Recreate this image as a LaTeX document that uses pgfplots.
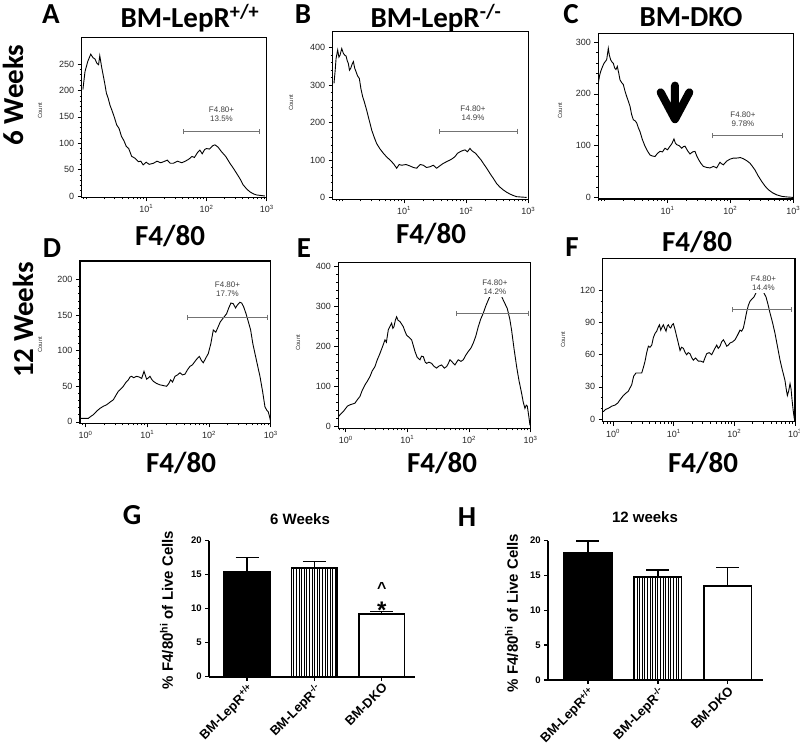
\documentclass[border=0pt]{standalone}
\usepackage{fontspec}
\setmainfont{Liberation Sans}
\newfontfamily\calib{Carlito}
\usepackage{pgfplots}
\pgfplotsset{compat=1.18}
\usetikzlibrary{patterns.meta,arrows.meta}

\tikzset{
 curve/.style={black, line width=0.9pt},
 gate/.style={draw=black!55, line width=0.8pt, {Bar[width=5pt]}-{Bar[width=5pt]}},
 gatelabel/.style={font=\fontsize{8}{9}\selectfont, text=black!75, align=center, fill=white, inner sep=1.2pt},
}
\pgfplotsset{
 hist/.style={
   scale only axis, anchor=south west,
   axis line style={line width=1.2pt},
   every tick/.style={black, line width=0.6pt},
   tick align=outside, xtick pos=bottom, ytick pos=left,
   major tick length=4pt, minor tick length=2pt,
   ticklabel style={font=\fontsize{9}{10}\selectfont, text=black!85},
   /pgf/number format/assume math mode=true,
   xtick={1,2,3}, xticklabels={10\textsuperscript{1},10\textsuperscript{2},10\textsuperscript{3}},
   minor xtick={-0.155,-0.097,-0.046,0,0.301,0.477,0.602,0.699,0.778,0.845,0.903,0.954,1.301,1.477,1.602,1.699,1.778,1.845,1.903,1.954,2.301,2.477,2.602,2.699,2.778,2.845,2.903,2.954},
   xmax=3,
   minor y tick num=4,
 },
 histB/.style={hist, xtick={0,1,2,3}, xticklabels={10\textsuperscript{0},10\textsuperscript{1},10\textsuperscript{2},10\textsuperscript{3}}},
 barax/.style={
   scale only axis, anchor=south west,
   axis x line=bottom, axis y line=left,
   axis line style={line width=1.8pt, -},
   ymin=0, ymax=20, ytick={0,5,10,15,20},
   xtick={0,1,2},
   xticklabels={BM-LepR\textsuperscript{+/+},BM-LepR\textsuperscript{-/-},BM-DKO},
   tick align=outside, major tick length=4pt,
   every tick/.style={black, line width=1.5pt},
   yticklabel style={font=\bfseries\fontsize{9.5}{10}\selectfont},
   xticklabel style={font=\bfseries\fontsize{13}{14}\selectfont, rotate=45, anchor=north east, inner sep=1pt},
   /pgf/number format/assume math mode=true,
   ybar, bar shift=0pt, bar width=0.68,
   clip=false,
 },
 errb/.style={error bars/.cd, y dir=plus, y explicit,
   error bar style={line width=1.6pt, black},
   error mark options={rotate=90, line width=1.6pt, mark size=11.5pt, black}},
}

\begin{document}
\begin{tikzpicture}[x=1pt,y=1pt]
\useasboundingbox (0,0) rectangle (800,749);

% ---------------- Panel A ----------------
\begin{axis}[hist, at={(81.7pt,551.7pt)}, width=185pt, height=160pt,
  xmin=-0.07, ymin=-2.5, ymax=301, ytick={0,50,100,150,200,250}]
\addplot[curve] coordinates {(-0.05,202)(-0.015,236)(0.03,255)(0.08,269)(0.12,262)(0.15,260)(0.18,252)(0.21,249)(0.23,266)(0.26,245)(0.29,227)(0.31,215)(0.34,195)(0.37,185)(0.40,172)(0.43,163)(0.47,150)(0.51,135)(0.55,128)(0.59,113)(0.63,105)(0.67,94)(0.71,90)(0.76,75)(0.81,72)(0.87,65)(0.91,66)(0.95,59)(1.0,64)(1.05,60)(1.12,62)(1.18,66)(1.24,63)(1.29,65)(1.35,68)(1.40,62)(1.45,62)(1.52,66)(1.59,63)(1.65,66)(1.71,70)(1.76,75)(1.80,73)(1.85,82)(1.89,87)(1.93,80)(1.97,88)(2.0,90)(2.05,89)(2.10,95)(2.14,97)(2.19,93)(2.25,84)(2.32,75)(2.39,62)(2.45,52)(2.50,43)(2.56,32)(2.61,21)(2.67,13)(2.72,8)(2.78,4)(2.83,2)(2.90,1)(2.97,0)};
\draw[gate] (axis cs:1.61,122) -- (axis cs:2.88,122);
\node[gatelabel] at (axis cs:2.25,155) {F4.80+\\13.5\%};
\end{axis}

% ---------------- Panel B ----------------
\begin{axis}[hist, at={(332.7pt,549.7pt)}, width=195.6pt, height=167.6pt,
  xmin=-0.15, ymin=-5, ymax=443, ytick={0,100,200,300,400}]
\addplot[curve] coordinates {(-0.129,305)(-0.11,340)(-0.096,371)(-0.07,394)(-0.05,375)(-0.032,380)(-0.005,398)(0.022,385)(0.045,380)(0.065,378)(0.085,365)(0.102,358)(0.12,340)(0.14,345)(0.16,355)(0.183,363)(0.205,345)(0.226,336)(0.25,325)(0.279,318)(0.305,290)(0.333,269)(0.36,255)(0.397,233)(0.44,205)(0.478,180)(0.52,160)(0.558,144)(0.61,130)(0.666,118)(0.72,108)(0.773,100)(0.83,90)(0.88,78)(0.92,88)(0.961,86)(1.03,88)(1.095,84)(1.15,80)(1.202,78)(1.26,88)(1.31,86)(1.36,80)(1.417,82)(1.47,86)(1.524,78)(1.58,85)(1.631,91)(1.69,96)(1.739,100)(1.78,104)(1.819,109)(1.86,118)(1.9,122)(1.94,125)(1.98,127)(2.02,122)(2.061,131)(2.09,125)(2.114,122)(2.15,118)(2.195,109)(2.24,100)(2.275,91)(2.33,78)(2.383,64)(2.44,50)(2.49,37)(2.54,28)(2.597,20)(2.65,14)(2.705,9)(2.76,5)(2.812,2)(2.89,1)(2.973,0)};
\draw[gate] (axis cs:1.567,177) -- (axis cs:2.823,177);
\node[gatelabel] at (axis cs:2.11,226) {F4.80+\\14.9\%};
\end{axis}

% ---------------- Panel C ----------------
\begin{axis}[hist, at={(598.3pt,550pt)}, width=195pt, height=165.7pt,
  xmin=-0.1, ymin=-3, ymax=317, ytick={0,100,200,300}]
\addplot[curve] coordinates {(-0.1,221)(-0.08,235)(-0.063,243)(-0.035,252)(-0.01,259)(0.033,266)(0.059,288)(0.075,275)(0.096,266)(0.115,262)(0.139,259)(0.16,250)(0.181,247)(0.202,253)(0.225,240)(0.245,227)(0.27,222)(0.298,218)(0.325,205)(0.351,195)(0.38,185)(0.404,176)(0.43,160)(0.457,150)(0.485,148)(0.51,144)(0.535,135)(0.563,127)(0.6,112)(0.642,99)(0.68,90)(0.722,82)(0.76,80)(0.801,79)(0.84,85)(0.881,89)(0.92,88)(0.96,95)(1.0,92)(1.04,99)(1.07,104)(1.103,113)(1.125,105)(1.146,102)(1.185,100)(1.225,95)(1.25,98)(1.278,99)(1.32,90)(1.358,84)(1.4,88)(1.437,89)(1.465,80)(1.49,74)(1.53,66)(1.57,60)(1.62,58)(1.676,57)(1.73,60)(1.782,57)(1.81,63)(1.835,68)(1.86,65)(1.888,63)(1.94,70)(1.994,74)(2.05,76)(2.1,76)(2.16,77)(2.2,75)(2.232,73)(2.27,70)(2.312,66)(2.35,60)(2.391,53)(2.44,42)(2.497,31)(2.55,22)(2.603,15)(2.67,9)(2.736,5)(2.82,2)(2.895,1)(3.0,0)};
\draw[gate] (axis cs:1.702,119) -- (axis cs:2.826,119);
\node[gatelabel] at (axis cs:2.2,151) {F4.80+\\9.78\%};
\draw[black, line width=8pt, line cap=round, line join=round]
  (axis cs:0.891,203) -- (axis cs:1.119,151) -- (axis cs:1.347,203)
  (axis cs:1.119,216) -- (axis cs:1.119,158);
\end{axis}

% ---------------- Panel D ----------------
\begin{axis}[histB, at={(80pt,325.7pt)}, width=190.7pt, height=162.3pt,
  xmin=-0.09, ymin=-2, ymax=226, ytick={0,50,100,150,200}]
\addplot[curve] coordinates {(-0.09,5)(0.0,5)(0.045,5)(0.09,8)(0.126,10)(0.18,15)(0.234,19)(0.29,22)(0.342,24)(0.4,28)(0.45,31)(0.49,37)(0.531,43)(0.57,46)(0.612,50)(0.65,55)(0.693,59)(0.72,63)(0.747,64)(0.78,62)(0.828,64)(0.87,63)(0.909,61)(0.947,71)(0.99,60)(1.02,62)(1.044,64)(1.07,60)(1.098,57)(1.15,54)(1.206,52)(1.26,51)(1.314,50)(1.35,54)(1.379,59)(1.41,56)(1.449,64)(1.49,66)(1.53,69)(1.57,66)(1.611,67)(1.65,73)(1.692,78)(1.73,80)(1.773,85)(1.81,89)(1.843,92)(1.88,86)(1.908,83)(1.95,90)(1.989,96)(2.03,110)(2.07,129)(2.11,126)(2.151,134)(2.18,140)(2.205,143)(2.25,148)(2.286,152)(2.32,160)(2.356,167)(2.394,166)(2.43,160)(2.459,164)(2.5,168)(2.529,167)(2.56,162)(2.6,152)(2.64,140)(2.675,129)(2.71,110)(2.745,96)(2.79,78)(2.826,64)(2.87,42)(2.907,21)(2.94,16)(2.961,14)(2.985,6)(3.0,0)};
\draw[gate] (axis cs:1.649,147) -- (axis cs:2.961,147);
\node[gatelabel] at (axis cs:2.3,187) {F4.80+\\17.7\%};
\end{axis}

% ---------------- Panel E ----------------
\begin{axis}[histB, at={(338.3pt,320.7pt)}, width=192.3pt, height=165.7pt,
  xmin=-0.12, ymin=-6, ymax=410, ytick={0,100,200,300,400}]
\addplot[curve] coordinates {(-0.12,23)(-0.08,30)(-0.039,36)(0.0,44)(0.03,50)(0.069,53)(0.11,55)(0.15,57)(0.19,66)(0.231,74)(0.27,90)(0.313,103)(0.35,112)(0.394,124)(0.43,138)(0.475,149)(0.51,165)(0.556,182)(0.6,200)(0.637,216)(0.66,210)(0.691,241)(0.72,250)(0.745,258)(0.765,245)(0.783,249)(0.805,265)(0.826,274)(0.85,265)(0.88,262)(0.91,255)(0.934,249)(0.96,238)(0.988,228)(1.03,222)(1.07,216)(1.1,200)(1.124,187)(1.16,172)(1.205,166)(1.23,175)(1.259,174)(1.29,160)(1.313,157)(1.35,160)(1.394,157)(1.43,150)(1.475,145)(1.51,150)(1.556,153)(1.6,145)(1.637,149)(1.66,155)(1.691,166)(1.73,160)(1.772,153)(1.8,160)(1.826,166)(1.87,162)(1.908,166)(1.95,178)(1.989,187)(2.03,195)(2.07,208)(2.11,225)(2.151,249)(2.19,268)(2.232,283)(2.27,300)(2.313,316)(2.34,325)(2.45,335)(2.53,325)(2.556,316)(2.59,305)(2.621,295)(2.66,270)(2.691,241)(2.73,195)(2.773,149)(2.81,115)(2.854,82)(2.88,60)(2.908,44)(2.93,52)(2.946,50)(2.97,25)(2.989,3)(3.0,0)};
\draw[gate] (axis cs:1.783,283) -- (axis cs:2.978,283);
\node[gatelabel, inner sep=2.5pt] at (axis cs:2.42,348) {F4.80+\\14.2\%};
\end{axis}

% ---------------- Panel F ----------------
\begin{axis}[histB, at={(602.7pt,327.3pt)}, width=192.3pt, height=163.3pt,
  xmin=-0.17, ymin=-2.5, ymax=150, ytick={0,30,60,90,120}, minor y tick num=2]
\addplot[curve] coordinates {(-0.17,7)(-0.159,7)(-0.12,9)(-0.077,10)(-0.02,12)(0.033,13)(0.08,15)(0.116,18)(0.171,22)(0.21,24)(0.253,26)(0.28,29)(0.308,32)(0.34,40)(0.379,43)(0.43,43)(0.473,43)(0.5,48)(0.528,54)(0.555,62)(0.583,68)(0.61,67)(0.638,69)(0.665,76)(0.693,80)(0.72,82)(0.747,86)(0.766,88)(0.786,83)(0.81,86)(0.83,88)(0.85,85)(0.874,82)(0.895,87)(0.912,88)(0.93,86)(0.951,85)(0.975,88)(0.995,89)(1.02,84)(1.05,77)(1.08,70)(1.105,64)(1.13,67)(1.16,66)(1.19,62)(1.214,60)(1.24,62)(1.269,61)(1.3,57)(1.324,55)(1.36,57)(1.407,54)(1.45,54)(1.489,53)(1.515,57)(1.544,61)(1.585,62)(1.627,60)(1.67,65)(1.709,69)(1.735,66)(1.764,68)(1.79,72)(1.819,74)(1.85,71)(1.874,68)(1.9,69)(1.929,71)(1.97,72)(2.011,74)(2.05,78)(2.094,83)(2.12,82)(2.149,85)(2.175,92)(2.203,100)(2.23,106)(2.258,110)(2.29,112)(2.324,114)(2.42,125)(2.522,114)(2.555,107)(2.588,99)(2.63,90)(2.67,80)(2.71,68)(2.753,55)(2.79,46)(2.835,36)(2.855,28)(2.874,22)(2.895,26)(2.918,33)(2.935,28)(2.951,18)(2.97,8)(2.989,0)};
\draw[gate] (axis cs:1.956,102) -- (axis cs:2.945,102);
\node[gatelabel, inner sep=2.5pt] at (axis cs:2.48,127) {F4.80+\\14.4\%};
\end{axis}

% ---------------- Panel G ----------------
\begin{axis}[barax, at={(209.3pt,72.3pt)}, width=205.7pt, height=136pt,
  xmin=-0.56, xmax=2.495]
\addplot[fill=black, draw=black, line width=1.8pt, errb] coordinates {(0,15.44) +- (0,2.06)};
\addplot[pattern={Lines[angle=90,distance=2.6pt,line width=0.7pt]}, draw=black, line width=1.8pt, errb] coordinates {(1,15.93) +- (0,1.03)};
\addplot[fill=white, draw=black, line width=1.8pt, errb] coordinates {(2,9.22) +- (0,0.34)};
\node[anchor=base, font=\bfseries\fontsize{16}{16}\selectfont] at (axis cs:2,12.2) {\textasciicircum};
\node[anchor=base, font=\bfseries\fontsize{24}{24}\selectfont] at (axis cs:2,8.6) {*};
\end{axis}

% ---------------- Panel H ----------------
\begin{axis}[barax, at={(548.3pt,69pt)}, width=215pt, height=139.3pt,
  xmin=-0.566, xmax=2.51]
\addplot[fill=black, draw=black, line width=1.8pt, errb] coordinates {(0,18.18) +- (0,1.77)};
\addplot[pattern={Lines[angle=90,distance=2.6pt,line width=0.7pt]}, draw=black, line width=1.8pt, errb] coordinates {(1,14.74) +- (0,1.05)};
\addplot[fill=white, draw=black, line width=1.8pt, errb] coordinates {(2,13.54) +- (0,2.63)};
\end{axis}

% ---------------- texts ----------------
\begin{scope}[every node/.style={font=\calib\bfseries\fontsize{29}{30}\selectfont, inner sep=0pt}]
\node at (51,735) {A};
\node at (190,731) {BM-LepR\textsuperscript{+/+}};
\node at (303,735) {B};
\node at (436,731) {BM-LepR\textsuperscript{-/-}};
\node at (571,735) {C};
\node at (691,732) {BM-DKO};
\node[rotate=90] at (13,654) {6 Weeks};
\node at (170,513) {F4/80};
\node at (431,515) {F4/80};
\node at (697,507) {F4/80};
\node at (52,501) {D};
\node at (304,501) {E};
\node at (572,502) {F};
\node[rotate=90] at (23,429) {12 Weeks};
\node at (181,286) {F4/80};
\node at (442,286) {F4/80};
\node at (703,286) {F4/80};
\node at (132,234) {G};
\node at (467,232) {H};
\end{scope}
\begin{scope}[every node/.style={font=\fontsize{6}{6}\selectfont, rotate=90, text=black!80}]
\node at (40,638) {Count};
\node at (291,646) {Count};
\node at (560,638) {Count};
\node at (40,404) {Count};
\node at (298,406) {Count};
\node at (563,409) {Count};
\end{scope}
\node[font=\bfseries\fontsize{15}{16}\selectfont] at (300,229.7) {6 Weeks};
\node[font=\bfseries\fontsize{15}{16}\selectfont] at (645,232) {12 weeks};
\node[rotate=90, font=\bfseries\fontsize{15}{16}\selectfont] at (166.7,139) {\% F4/80\textsuperscript{hi} of Live Cells};
\node[rotate=90, font=\bfseries\fontsize{15}{16}\selectfont] at (511.7,136) {\% F4/80\textsuperscript{hi} of Live Cells};
\end{tikzpicture}
\end{document}
